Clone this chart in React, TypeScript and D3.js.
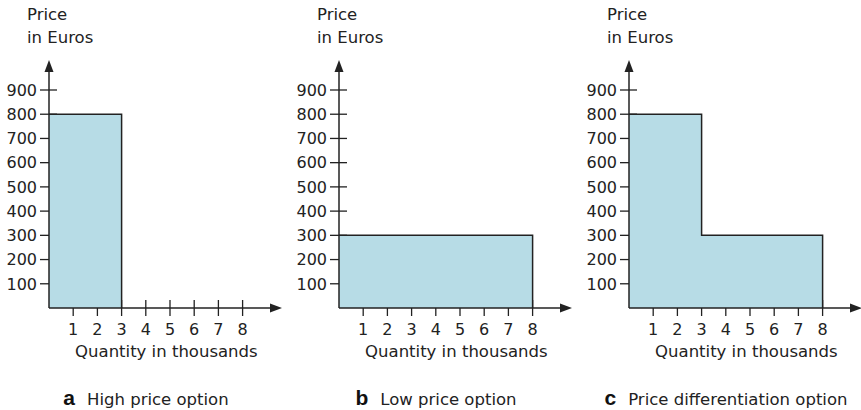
import React from 'react';
import * as d3 from 'd3';

interface Segment {
	from: number
	to: number
	price: number
}

const panelLetters = ['a', 'b', 'c'];
const panelTitles = ['High price option', 'Low price option', 'Price differentiation option'];
const highPrice: Segment[] = [{ from: 0, to: 3, price: 800 }];
const lowPrice: Segment[] = [{ from: 0, to: 8, price: 300 }];
const diffPrice: Segment[] = [{ from: 0, to: 3, price: 800 }, { from: 3, to: 8, price: 300 }];
const panelData = [highPrice, lowPrice, diffPrice];
const yTicks = [100, 200, 300, 400, 500, 600, 700, 800, 900];
const xTicks = [1, 2, 3, 4, 5, 6, 7, 8];
const yLabel = ['Price', 'in Euros'];
const xLabel = 'Quantity in thousands';

const width = 861;
const height = 410;
const originX = 49;
const originY = 308;
const panelGap = 290;
const font = '"DejaVu Sans", Verdana, sans-serif';

const xScale = d3.scaleLinear().domain([0, 8]).range([0, 193.6]);
const yScale = d3.scaleLinear().domain([0, 900]).range([0, -218]);

const Panel: React.FC<{ data: Segment[], letter: string, title: string, index: number }> = ({ data, letter, title, index }) => {
	const pts: [number, number][] = data.map(d => [d.from, d.price]);
	pts.push([data[data.length - 1].to, 0]);
	const outline = d3.line<[number, number]>()
		.x(d => xScale(d[0]))
		.y(d => yScale(d[1]))
		.curve(d3.curveStepAfter)(pts) || '';
	const fill = d3.area<[number, number]>()
		.x(d => xScale(d[0]))
		.y0(yScale(0))
		.y1(d => yScale(d[1]))
		.curve(d3.curveStepAfter)(pts) || '';

	return (
		<g transform={`translate(${originX + index * panelGap},${originY})`}>
			<text x={-22} y={-288} fontFamily={font} fontSize={16.5} fill="#222">{yLabel[0]}</text>
			<text x={-22} y={-265} fontFamily={font} fontSize={16.5} fill="#222">{yLabel[1]}</text>

			{yTicks.map(t => (
				<g key={t} transform={`translate(0,${yScale(t)})`}>
					<line x1={-9} x2={8} stroke="#222" strokeWidth={1.3} />
					<text x={-12} dy="0.36em" textAnchor="end" fontFamily={font} fontSize={16} fill="#222">{t}</text>
				</g>
			))}
			{xTicks.map(t => (
				<g key={t} transform={`translate(${xScale(t)},0)`}>
					<line y1={-8} y2={8} stroke="#222" strokeWidth={1.3} />
					<text y={27} textAnchor="middle" fontFamily={font} fontSize={16} fill="#222">{t}</text>
				</g>
			))}

			<path d={fill} fill="#b7dce6" />
			<path d={outline} fill="none" stroke="#222" strokeWidth={1.5} />

			<line x1={0} x2={0} y1={0} y2={-238} stroke="#222" strokeWidth={1.5} />
			<path d="M0,-248 L-4.5,-236 L4.5,-236 Z" fill="#222" />
			<line x1={0} x2={223} y1={0} y2={0} stroke="#222" strokeWidth={1.5} />
			<path d="M233,0 L221,-4.5 L221,4.5 Z" fill="#222" />

			<text x={xScale(4.85)} y={49} textAnchor="middle" fontFamily={font} fontSize={16.5} fill="#222">{xLabel}</text>

			<text x={97} y={97} textAnchor="middle" fill="#222">
				<tspan fontFamily='"Liberation Sans", Arial, sans-serif' fontWeight="bold" fontSize={21} fill="#111">{letter}</tspan>
				<tspan dx={12} fontFamily={font} fontSize={16.5}>{title}</tspan>
			</text>
		</g>
	);
}

export default function App() {
	return (
		<svg width={width} height={height} style={{ position: 'absolute', left: 0, top: 0, background: '#fff' }}>
			{panelData.map((d, i) => (
				<Panel key={i} data={d} letter={panelLetters[i]} title={panelTitles[i]} index={i} />
			))}
		</svg>
	);
}
